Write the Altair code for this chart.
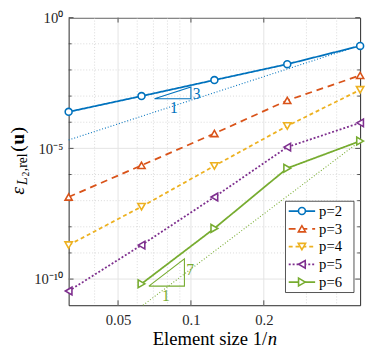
import altair as alt
import pandas as pd

# ---------------- data ----------------
h_vals = [1/32, 1/16, 1/8, 1/4, 1/2]
series_names = ["p=2", "p=3", "p=4", "p=5", "p=6"]
err_p2 = [2.5e-4, 1.0e-3, 4.1e-3, 1.66e-2, 8.3e-2]
err_p3 = [1.38e-7, 2.24e-6, 3.7e-5, 6.8e-4, 6.2e-3]
err_p4 = [2.0e-9, 5.9e-8, 2.14e-6, 7.2e-5, 1.74e-3]
err_p5 = [3.5e-11, 2.0e-9, 1.38e-7, 1.12e-5, 9.5e-5]
err_p6 = [None, 6.6e-11, 8.7e-9, 1.74e-6, 1.9e-5]
all_errs = [err_p2, err_p3, err_p4, err_p5, err_p6]

colors = ["#0072BD", "#D95319", "#EDB120", "#7E2F8E", "#77AC30"]
shapes = ["circle", "triangle-up", "triangle-down", "triangle-left", "triangle-right"]
marker_sizes = [50, 64, 64, 64, 64]
dashes = [[1, 0], [7, 5], [4, 3], [2, 2], [1, 0]]

# reference slope lines
ref3_h = [1/32, 1/2]
ref3_e = [2.1e-5, 8.7e-2]
ref7_h = [0.0634, 1/2]
ref7_e = [1e-11, 1.9e-5]

# slope triangles
tri3_h = [0.0707, 0.1, 0.1, 0.0707]
tri3_e = [7.9e-4, 7.9e-4, 2.25e-3, 7.9e-4]
tri7_h = [0.067, 0.094, 0.094, 0.067]
tri7_e = [5.4e-11, 5.4e-11, 5.9e-10, 5.4e-11]
tri_text = ["1", "3", "1", "7"]
tri_text_h = [0.085, 0.1056, 0.0788, 0.0993]
tri_text_e = [3.4e-4, 1.22e-3, 2.3e-11, 2.2e-10]
tri_text_col = ["#0072BD", "#0072BD", "#77AC30", "#77AC30"]

# ticks / grid
x_major = [0.05, 0.1, 0.2]
x_tick_labels = ["0.05", "0.1", "0.2"]
x_minor = [0.04, 0.06, 0.07, 0.08, 0.09, 0.3, 0.4]
y_major = [1.0, 1e-5, 1e-10]
y_tick_labels = ["10⁰", "10⁻⁵", "10⁻¹⁰"]
y_minor = [1e-1, 1e-2, 1e-3, 1e-4, 1e-6, 1e-7, 1e-8, 1e-9]

# ---------------- settings ----------------
FONT = "Liberation Serif"
W, H = 298, 294
AX = "#262626"

rows = []
for name, errs in zip(series_names, all_errs):
    for hv, ev in zip(h_vals, errs):
        if ev is not None:
            rows.append({"h": hv, "err": ev, "series": name})
df = pd.DataFrame(rows)


def label_expr(vals, labs):
    expr = "''"
    for v, l in reversed(list(zip(vals, labs))):
        expr = f"abs(datum.value/{v} - 1) < 1e-6 ? '{l}' : ({expr})"
    return expr


xscale = alt.Scale(type="log", domain=[1/32, 1/2], nice=False)
yscale = alt.Scale(type="log", domain=[1e-11, 1.0], nice=False)
xaxis = alt.Axis(values=x_major, labelExpr=label_expr(x_major, x_tick_labels), ticks=False,
                 domain=False, grid=False, title=None, labelFont=FONT, labelFontSize=15,
                 labelColor=AX, labelPadding=8, labelFlush=False, labelOverlap=False)
yaxis = alt.Axis(values=y_major, labelExpr=label_expr(y_major, y_tick_labels), ticks=False,
                 domain=False, grid=False, title=None, labelFont=FONT, labelFontSize=15,
                 labelColor=AX, labelPadding=6, labelFlush=False, labelOverlap=False)


def X(f):
    return alt.X(f, type="quantitative", scale=xscale, axis=xaxis)


def Y(f):
    return alt.Y(f, type="quantitative", scale=yscale, axis=yaxis)


color_enc = alt.Color("series:N", scale=alt.Scale(domain=series_names, range=colors), legend=None)
shape_enc = alt.Shape("series:N", scale=alt.Scale(domain=series_names, range=shapes), legend=None)
size_enc = alt.Size("series:N", scale=alt.Scale(domain=series_names, range=marker_sizes), legend=None)
dash_enc = alt.StrokeDash("series:N", scale=alt.Scale(domain=series_names, range=dashes), legend=None)

# grid
gx_major = alt.Chart(pd.DataFrame({"v": x_major})).mark_rule(color="#e3e3e3", strokeWidth=1).encode(x=X("v"))
gx_minor = alt.Chart(pd.DataFrame({"v": x_minor})).mark_rule(color="#cfcfcf", strokeWidth=0.8, strokeDash=[1, 2]).encode(x=X("v"))
gy_major = alt.Chart(pd.DataFrame({"v": y_major})).mark_rule(color="#e3e3e3", strokeWidth=1).encode(y=Y("v"))
gy_minor = alt.Chart(pd.DataFrame({"v": y_minor})).mark_rule(color="#cfcfcf", strokeWidth=0.8, strokeDash=[1, 2]).encode(y=Y("v"))

# ticks (inward)
tick = dict(color=AX, strokeWidth=0.8)
tx_b = alt.Chart(pd.DataFrame({"v": x_major})).mark_rule(**tick).encode(x=X("v"), y=alt.value(H), y2=alt.value(H - 5))
tx_t = alt.Chart(pd.DataFrame({"v": x_major})).mark_rule(**tick).encode(x=X("v"), y=alt.value(0), y2=alt.value(5))
ty_l = alt.Chart(pd.DataFrame({"v": y_major})).mark_rule(**tick).encode(y=Y("v"), x=alt.value(0), x2=alt.value(5))
ty_r = alt.Chart(pd.DataFrame({"v": y_major})).mark_rule(**tick).encode(y=Y("v"), x=alt.value(W), x2=alt.value(W - 5))
tym_l = alt.Chart(pd.DataFrame({"v": y_minor})).mark_rule(**tick).encode(y=Y("v"), x=alt.value(0), x2=alt.value(3))
tym_r = alt.Chart(pd.DataFrame({"v": y_minor})).mark_rule(**tick).encode(y=Y("v"), x=alt.value(W), x2=alt.value(W - 3))

# reference lines
ref3 = alt.Chart(pd.DataFrame({"h": ref3_h, "err": ref3_e})).mark_line(
    color=colors[0], strokeWidth=1.1, strokeDash=[1, 2]).encode(x=X("h"), y=Y("err"))
ref7 = alt.Chart(pd.DataFrame({"h": ref7_h, "err": ref7_e})).mark_line(
    color=colors[4], strokeWidth=1.1, strokeDash=[1, 2]).encode(x=X("h"), y=Y("err"))

tri3 = alt.Chart(pd.DataFrame({"h": tri3_h, "err": tri3_e, "o": list(range(4))})).mark_line(
    color=colors[0], strokeWidth=1.1).encode(x=X("h"), y=Y("err"), order="o:Q")
tri7 = alt.Chart(pd.DataFrame({"h": tri7_h, "err": tri7_e, "o": list(range(4))})).mark_line(
    color=colors[4], strokeWidth=1.1).encode(x=X("h"), y=Y("err"), order="o:Q")
tri_lab = alt.Chart(pd.DataFrame({"h": tri_text_h, "err": tri_text_e, "t": tri_text, "c": tri_text_col})).mark_text(
    font=FONT, fontSize=16, align="center", baseline="middle").encode(
    x=X("h"), y=Y("err"), text="t:N", color=alt.Color("c:N", scale=None, legend=None))

# data
lines = alt.Chart(df).mark_line(strokeWidth=1.8).encode(
    x=X("h"), y=Y("err"), color=color_enc, strokeDash=dash_enc, detail="series:N")
pts = alt.Chart(df).mark_point(fill="white", filled=False, strokeWidth=1.6, opacity=1).encode(
    x=X("h"), y=Y("err"), color=color_enc, shape=shape_enc, size=size_enc)

# legend (manual box)
LEG_Y0, LEG_DY = 197.7, 18.15
leg_df = pd.DataFrame({"series": series_names, "row": list(range(len(series_names)))})
leg_base = alt.Chart(leg_df).transform_calculate(ly=f"{LEG_Y0} + datum.row * {LEG_DY}")
ly = alt.Y("ly:Q", scale=None, axis=None)
leg_box = alt.Chart(pd.DataFrame({"a": [0]})).mark_rect(fill="white", stroke=AX, strokeWidth=0.8).encode(
    x=alt.value(221.7), x2=alt.value(291.7), y=alt.value(187.7), y2=alt.value(281))
leg_lines = leg_base.mark_rule(strokeWidth=1.8).encode(
    x=alt.value(225), x2=alt.value(252), y=ly, color=color_enc, strokeDash=dash_enc)
leg_pts = leg_base.mark_point(fill="white", filled=False, strokeWidth=1.6, opacity=1).encode(
    x=alt.value(238.5), y=ly, color=color_enc, shape=shape_enc, size=size_enc)
leg_txt = leg_base.mark_text(font=FONT, fontSize=15, align="left", baseline="middle", color="#000").encode(
    x=alt.value(256), y=ly, text="series:N")

# axis titles as text
title_layers = []
ypieces = [
    ("ε", 20, "italic", "normal", -46, 181),
    ("L", 14, "italic", "normal", -43, 171),
    ("2", 10, "normal", "normal", -40.5, 162.5),
    (",rel", 14, "normal", "normal", -43, 157),
    ("(", 20, "normal", "normal", -46, 137),
    ("u", 20, "normal", "bold", -46, 130),
    (")", 20, "normal", "normal", -46, 118.5),
]
for t, fs, st, wt, xv, yv in ypieces:
    title_layers.append(
        alt.Chart(pd.DataFrame({"t": [t]})).mark_text(
            font=FONT, fontSize=fs, fontStyle=st, fontWeight=wt, angle=270,
            align="left", baseline="alphabetic", color="#000").encode(
            text="t:N", x=alt.value(xv), y=alt.value(yv)))
title_layers.append(
    alt.Chart(pd.DataFrame({"t": ["Element size 1/"]})).mark_text(
        font=FONT, fontSize=19, align="right", baseline="alphabetic", color="#000").encode(
        text="t:N", x=alt.value(203), y=alt.value(335)))
title_layers.append(
    alt.Chart(pd.DataFrame({"t": ["n"]})).mark_text(
        font=FONT, fontSize=19, fontStyle="italic", align="left", baseline="alphabetic", color="#000").encode(
        text="t:N", x=alt.value(203.5), y=alt.value(335)))

chart = alt.layer(
    gx_minor, gy_minor, gx_major, gy_major,
    tx_b, tx_t, ty_l, ty_r, tym_l, tym_r,
    ref3, ref7, tri3, tri7, tri_lab,
    lines, pts,
    leg_box, leg_lines, leg_pts, leg_txt,
    *title_layers,
).properties(
    width=W, height=H,
    autosize=alt.AutoSizeParams(type="none"),
    padding={"left": 62, "top": 6, "right": 6, "bottom": 47},
).configure_view(stroke=AX, strokeWidth=1)

chart.save("out.html", embed_options={"renderer": "svg", "actions": False})
